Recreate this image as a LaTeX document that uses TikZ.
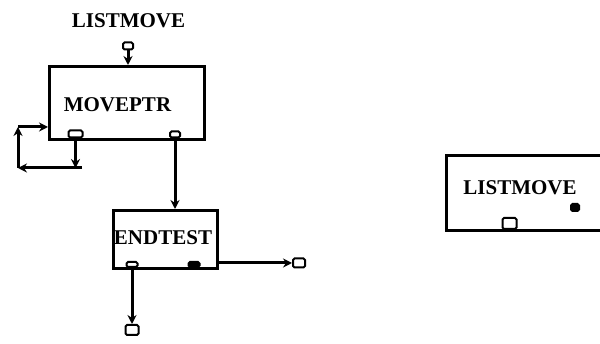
\documentclass[tikz,border=0pt]{standalone}
\usepackage{fontspec}
\setmainfont{Liberation Serif}
\usetikzlibrary{arrows.meta}
\begin{document}
\begin{tikzpicture}[x=1pt,y=-1pt,
  box/.style={draw, line width=2.6pt, inner sep=0pt, anchor=north west},
  lbl/.style={font=\fontsize{21}{21}\selectfont\bfseries, inner sep=0pt},
  port/.style={draw, line width=2pt, rounded corners=1.5pt, inner sep=0pt, minimum width=10pt, minimum height=7pt},
  fport/.style={port, fill=black},
  arr/.style={line width=3pt, -{Stealth[length=9pt,width=9pt]}},
]
\useasboundingbox (0,0) rectangle (600,344);
\clip (0,0) rectangle (600,344);

% MOVEPTR block
\node[lbl] (title) at (128.5,20.5) {LISTMOVE};
\node[box, minimum width=155pt, minimum height=73pt] (mp) at (48,65) {};
\node[lbl] (mpl) at (117.5,105) {MOVEPTR};
\node[port] (tp) at (128,46) {};
\draw[arr] (tp.south) -- (tp.south |- mp.north);

\node[port, minimum width=14pt] (p1) at (75.5,134) {};
\node[port, minimum width=10pt, minimum height=6pt] (p2) at (175,134.5) {};

% feedback loop
\coordinate (c1) at (75.5,168);
\coordinate (c1b) at (82,168);
\coordinate (c2) at (18,168);
\coordinate (c3) at (18,127);
\draw[arr] (p1.south) -- (c1);
\draw[arr] (c1b) -- (c2);
\draw[arr] (c2) -- (c3);
\draw[arr] (c3) -- (c3 -| mp.west);

% ENDTEST block
\node[box, minimum width=104pt, minimum height=58pt] (et) at (112,209) {};
\node[lbl] (etl) at (163,237.5) {ENDTEST};
\draw[arr] (p2.south) -- (p2.south |- et.north);
\node[port, minimum width=11pt, minimum height=5pt] (p3) at (132,264.5) {};
\node[fport, minimum width=11pt, minimum height=5pt] (p4) at (194,264.5) {};

\node[port, minimum width=12pt, minimum height=9pt] (t1) at (299,263) {};
\draw[arr] (t1.west -| et.east) -- (t1.west);
\node[port, minimum width=13pt, minimum height=10pt] (t2) at (132,330) {};
\draw[arr] (p3.south) -- (t2.north);

% LISTMOVE block (right)
\node[box, minimum width=180pt, minimum height=75pt] (lm) at (445,154) {};
\node[lbl] (lml) at (520,187.5) {LISTMOVE};
\node[fport, minimum width=8pt, minimum height=7pt] (sq) at (575,207.5) {};
\node[port, minimum width=14pt, minimum height=11pt] (p5) at (509.5,223.5) {};
\end{tikzpicture}
\end{document}
